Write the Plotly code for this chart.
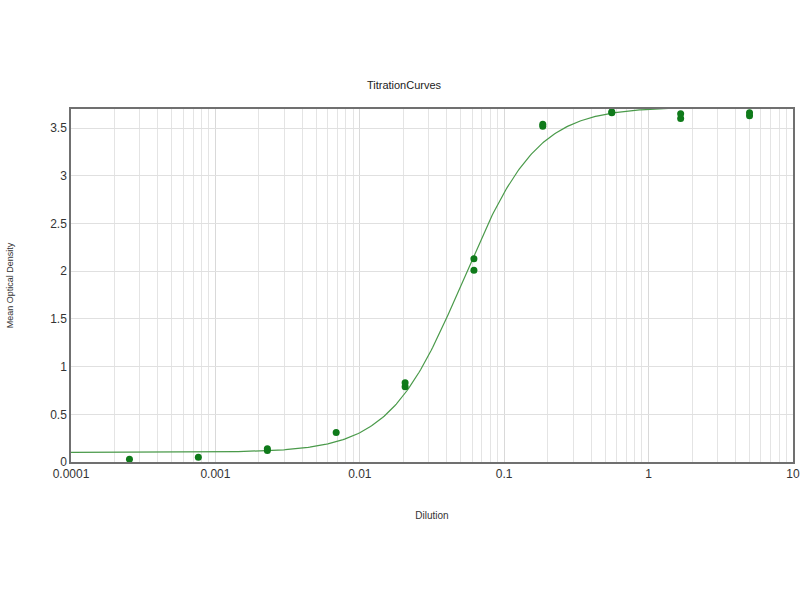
import numpy as np
import plotly.graph_objects as go

# Measured points (duplicates)
dilution = [0.000254, 0.000762, 0.00229, 0.00229, 0.00686, 0.0206, 0.0206,
            0.0617, 0.0617, 0.185, 0.185, 0.556, 0.556, 1.667, 1.667, 5.0, 5.0]
od = [0.03, 0.05, 0.12, 0.14, 0.31, 0.79, 0.83,
      2.01, 2.13, 3.52, 3.54, 3.66, 3.67, 3.60, 3.65, 3.63, 3.66]

# 4PL fit parameters (bottom, top, EC50, hill)
fit_bottom = 0.10
fit_top = 3.72
fit_ec50 = 0.052
fit_hill = 1.7

xc = np.logspace(-4, 0.2, 400)
yc = fit_top + (fit_bottom - fit_top) / (1 + (xc / fit_ec50) ** fit_hill)

x_tickvals = [0.0001, 0.001, 0.01, 0.1, 1, 10]
x_ticktext = ["0.0001", "0.001", "0.01", "0.1", "1", "10"]
y_tickvals = [0, 0.5, 1, 1.5, 2, 2.5, 3, 3.5]
y_ticktext = ["0", "0.5", "1", "1.5", "2", "2.5", "3", "3.5"]

minor_vals = [m * 10.0 ** k for k in range(-4, 1) for m in range(2, 10)]

fig = go.Figure()
fig.add_trace(go.Scatter(x=xc, y=yc, mode="lines",
                         line=dict(color="#4a9a4a", width=1.2),
                         hoverinfo="skip", showlegend=False))
fig.add_trace(go.Scatter(x=dilution, y=od, mode="markers",
                         marker=dict(color="#0f7a1a", size=7),
                         showlegend=False))

font_family = "Liberation Sans, Arial, sans-serif"
fig.update_layout(
    width=800, height=600,
    margin=dict(l=71, r=7, t=109, b=138, autoexpand=False),
    paper_bgcolor="white", plot_bgcolor="white",
    title=dict(text="TitrationCurves", x=0.505, xanchor="center",
               y=1 - 85 / 600, yanchor="middle",
               font=dict(family=font_family, size=11, color="#222222")),
    font=dict(family=font_family, size=12, color="#333333"),
    xaxis=dict(type="log", range=[-4, 1], tickvals=x_tickvals, ticktext=x_ticktext,
               automargin=False, ticklabeloverflow="allow",
               showgrid=True, gridcolor="#d9d9d9", gridwidth=1,
               minor=dict(tickvals=minor_vals, showgrid=True, gridcolor="#e4e4e4", ticks=""),
               showline=True, linecolor="#707070", linewidth=1.5, mirror=True,
               ticks="", zeroline=False,
               title=dict(text="Dilution", font=dict(size=10, color="#333333"), standoff=32),
               tickfont=dict(size=12, color="#333333")),
    yaxis=dict(range=[0, 3.7], tickvals=y_tickvals, ticktext=y_ticktext,
               automargin=False,
               showgrid=True, gridcolor="#e0e0e0", gridwidth=1,
               showline=True, linecolor="#707070", linewidth=1.5, mirror=True,
               ticks="", zeroline=False,
               title=dict(text="Mean Optical Density", font=dict(size=9, color="#333333"), standoff=35),
               tickfont=dict(size=12, color="#333333")),
)

fig.write_html("out.html", config={"displayModeBar": False},
               post_script="document.body.style.margin='0';document.body.style.overflow='hidden';")
